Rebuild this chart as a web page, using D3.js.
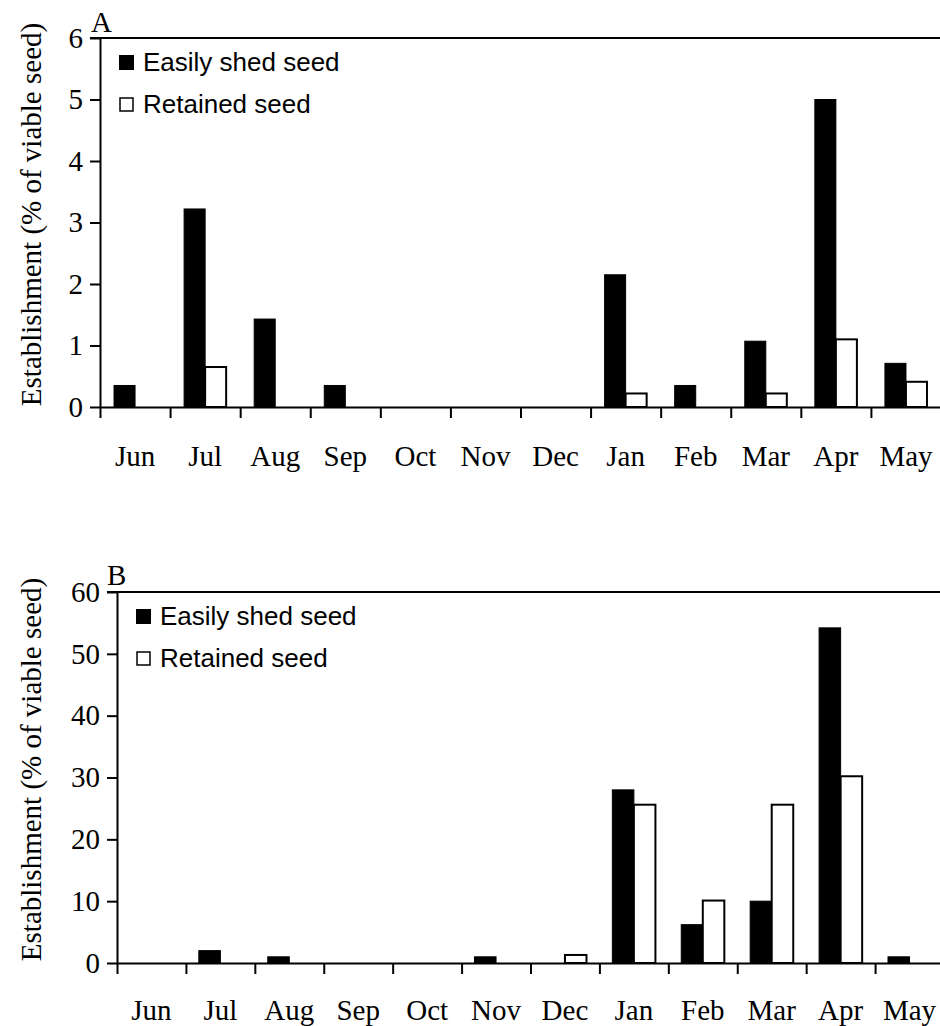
<!DOCTYPE html>
<html>
<head>
<meta charset="utf-8">
<script src="https://cdn.jsdelivr.net/npm/d3@7"></script>
<style>
  body { margin: 0; background: #fff; }
  svg { display: block; }
  .axis path, .axis line { stroke: #000; stroke-width: 2px; }
</style>
</head>
<body>
<svg id="chart" width="940" height="1026"></svg>
<script>
(function () {
  'use strict';

  var SERIF = "'Liberation Serif', 'Times New Roman', serif";
  var SANS = "'Liberation Sans', Arial, sans-serif";

  // months on the x axis
  var months = ['Jun', 'Jul', 'Aug', 'Sep', 'Oct', 'Nov', 'Dec', 'Jan', 'Feb', 'Mar', 'Apr', 'May'];
  var seriesNames = ['Easily shed seed', 'Retained seed'];

  // panel A
  var shedA = [0.35, 3.22, 1.43, 0.35, 0, 0, 0, 2.15, 0.35, 1.07, 5.0, 0.71];
  var retainedA = [0, 0.65, 0, 0, 0, 0, 0, 0.22, 0, 0.22, 1.1, 0.41];
  var ticksA = [0, 1, 2, 3, 4, 5, 6];

  // panel B
  var shedB = [0, 2, 1, 0, 0, 1, 0, 28, 6.2, 10, 54.2, 1];
  var retainedB = [0, 0, 0, 0, 0, 0, 1.3, 25.6, 10.1, 25.6, 30.2, 0];
  var ticksB = [0, 10, 20, 30, 40, 50, 60];

  var svg = d3.select('#chart');

  function drawPanel(opts) {
    var g = svg.append('g');
    var x = d3.scaleBand()
      .domain(months)
      .range([opts.left, opts.right])
      .padding(0);
    var xEdge = d3.scaleLinear()
      .domain([0, months.length])
      .range([opts.left, opts.right]);
    var xInner = d3.scaleBand()
      .domain(seriesNames)
      .range([0, x.bandwidth()])
      .paddingInner(0)
      .paddingOuter(opts.outer);
    var y = d3.scaleLinear()
      .domain([0, d3.max(opts.ticks)])
      .range([opts.bottom, opts.top]);

    var rows = months.map(function (m, i) {
      return {month: m, values: [opts.shed[i], opts.retained[i]]};
    });

    // top border line
    g.append('line')
      .attr('x1', opts.left - 10)
      .attr('x2', 940)
      .attr('y1', y(d3.max(opts.ticks)))
      .attr('y2', y(d3.max(opts.ticks)))
      .attr('stroke', '#000')
      .attr('stroke-width', 2);

    // bars
    var groups = g.selectAll('.month')
      .data(rows)
      .enter()
      .append('g')
      .attr('class', 'month')
      .attr('transform', function (d) { return 'translate(' + x(d.month) + ',0)'; });

    groups.selectAll('rect')
      .data(function (d) {
        return d.values.map(function (v, k) { return {name: seriesNames[k], value: v, k: k}; });
      })
      .enter()
      .append('rect')
      .attr('x', function (d) { return xInner(d.name); })
      .attr('width', xInner.bandwidth())
      .attr('y', function (d) { return y(d.value); })
      .attr('height', function (d) { return y(0) - y(d.value); })
      .attr('fill', function (d) { return d.k === 0 ? '#000' : '#fff'; })
      .attr('stroke', '#000')
      .attr('stroke-width', function (d) { return d.k === 0 ? 1 : 2; });

    // y axis
    g.append('g')
      .attr('class', 'axis')
      .attr('transform', 'translate(' + opts.left + ',0)')
      .call(d3.axisLeft(y)
        .tickValues(opts.ticks)
        .tickFormat(d3.format('d'))
        .tickSize(10)
        .tickSizeOuter(0)
        .tickPadding(7))
      .attr('font-family', SERIF)
      .attr('font-size', 29);

    // x axis: tick marks at the month boundaries
    g.append('g')
      .attr('class', 'axis')
      .attr('transform', 'translate(0,' + opts.bottom + ')')
      .call(d3.axisBottom(xEdge)
        .tickValues(d3.range(0, months.length))
        .tickSize(11)
        .tickSizeOuter(0)
        .tickFormat(''));

    // x labels under the middle of each month
    var labels = g.append('g')
      .attr('class', 'axis')
      .attr('transform', 'translate(0,' + opts.bottom + ')')
      .call(d3.axisBottom(x).tickSize(0).tickPadding(opts.labelPad))
      .attr('font-family', SERIF)
      .attr('font-size', 29);
    labels.select('.domain').remove();

    // y title
    g.append('text')
      .attr('transform', 'translate(' + opts.titleX + ',' + ((opts.top + opts.bottom) / 2 - 8) + ') rotate(-90)')
      .attr('text-anchor', 'middle')
      .attr('dy', '0.35em')
      .attr('font-family', SERIF)
      .attr('font-size', 29)
      .text('Establishment (% of viable seed)');

    // panel letter
    g.append('text')
      .attr('x', opts.letterX)
      .attr('y', opts.letterY)
      .attr('font-family', SERIF)
      .attr('font-size', 29)
      .text(opts.letter);

    // legend
    var legend = g.append('g')
      .attr('transform', 'translate(' + (opts.left + 19) + ',' + (opts.top + 17) + ')')
      .attr('font-family', SANS)
      .attr('font-size', 26);
    var items = legend.selectAll('g')
      .data(seriesNames)
      .enter()
      .append('g')
      .attr('transform', function (d, i) { return 'translate(0,' + (i * 42) + ')'; });
    items.append('rect')
      .attr('x', function (d, i) { return i === 0 ? 0 : 1; })
      .attr('y', function (d, i) { return i === 0 ? 0 : 1; })
      .attr('width', function (d, i) { return i === 0 ? 15 : 13; })
      .attr('height', function (d, i) { return i === 0 ? 15 : 13; })
      .attr('fill', function (d, i) { return i === 0 ? '#000' : '#fff'; })
      .attr('stroke', '#000')
      .attr('stroke-width', function (d, i) { return i === 0 ? 0 : 1.5; });
    items.append('text')
      .attr('x', 24)
      .attr('y', 16)
      .text(function (d) { return d; });
  }

  drawPanel({
    shed: shedA, retained: retainedA, ticks: ticksA,
    left: 100, right: 941, top: 38, bottom: 407,
    outer: 0.667, labelPad: 38, titleX: 31, letter: 'A', letterX: 91, letterY: 32
  });

  drawPanel({
    shed: shedB, retained: retainedB, ticks: ticksB,
    left: 117, right: 944, top: 592, bottom: 963,
    outer: 0.6, labelPad: 36, titleX: 31, letter: 'B', letterX: 107, letterY: 585
  });
}());
</script>
</body>
</html>
